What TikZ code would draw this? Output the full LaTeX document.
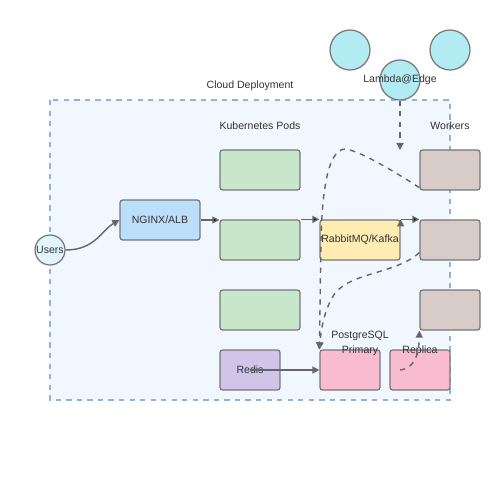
\documentclass[tikz,border=0pt]{standalone}
\usepackage{fontspec}
\setmainfont{Liberation Sans}
\usetikzlibrary{shapes,arrows,calc,arrows.meta}
\usetikzlibrary{positioning}

\definecolor{cloudfill}{HTML}{F0F7FE}
\definecolor{cloudline}{HTML}{8FB4D6}
\definecolor{edgegray}{HTML}{666666}
\definecolor{boxline}{HTML}{777777}
\definecolor{txtgray}{HTML}{333333}
\definecolor{podfill}{HTML}{C8E6C9}
\definecolor{lbfill}{HTML}{BBDEFB}
\definecolor{mqfill}{HTML}{FFECB3}
\definecolor{workfill}{HTML}{D7CCC8}
\definecolor{redisfill}{HTML}{D1C4E9}
\definecolor{dbfill}{HTML}{F8BBD0}
\definecolor{edgefill}{HTML}{B2EBF2}
\definecolor{userfill}{HTML}{E1F5FE}

\tikzset{
  box/.style={draw=boxline, line width=0.7pt, rounded corners=1.5pt, inner sep=0pt,
    minimum width=1.6cm, minimum height=0.8cm},
  smallbox/.style={box, minimum width=1.2cm},
  ball/.style={circle, draw=boxline, line width=0.7pt, inner sep=0pt},
  link/.style={draw=edgegray, line width=0.8pt, -{Triangle[length=4pt,width=4pt]}},
  dashlink/.style={link, dashed}
}

\begin{document}
\begin{tikzpicture}[x=0.02cm, y=-0.02cm, font=\fontsize{6}{7}\selectfont, text=txtgray]
            \useasboundingbox (0,0) rectangle (500,500);
            % cloud area
            \draw[cloudline, fill=cloudfill, dashed, line width=0.8pt] (50,100) rectangle (450,400);
            \draw (250,86) node (cloudlbl) {Cloud Deployment};
            \draw (260,126) node (podslbl) {Kubernetes Pods};
            \draw (450,126) node (workerslbl) {Workers};

            % edge functions
            \draw (350,50) node[ball, fill=edgefill, minimum size=0.8cm] (lambda1) {};
            \draw (450,50) node[ball, fill=edgefill, minimum size=0.8cm] (lambda2) {};
            \draw (400,80) node[ball, fill=edgefill, minimum size=0.8cm,
                  label={center:Lambda@Edge}] (lambda) {};

            \draw (50,250) node[ball, fill=userfill, minimum size=0.6cm,
                  label={center:Users}] (users) {};
            \draw (160,220) node[box, fill=lbfill] (nginx) {NGINX/ALB};

            \draw (260,170) node[box, fill=podfill] (pod1) {};
            \draw (260,240) node[box, fill=podfill] (pod2) {};
            \draw (260,310) node[box, fill=podfill] (pod3) {};

            \draw (360,240) node[box, fill=mqfill] (mq) {RabbitMQ/Kafka};

            \draw (450,170) node[smallbox, fill=workfill] (worker1) {};
            \draw (450,240) node[smallbox, fill=workfill] (worker2) {};
            \draw (450,310) node[smallbox, fill=workfill] (worker3) {};

            \draw (250,370) node[smallbox, fill=redisfill] (redis) {Redis};
            \draw (350,370) node[smallbox, fill=dbfill] (primary) {};
            \draw (420,370) node[smallbox, fill=dbfill] (replica) {};
            \draw (360,336) node (pglbl) {PostgreSQL};
            \draw (360,351) node (primarylbl) {Primary};
            \draw (420,351) node (replicalbl) {Replica};

            \coordinate (lambdaend) at (400,150);

            % connectors
            \draw[link] (users.east) .. controls (95,250) and (102,230) .. (nginx.west);
            \path[link]
            (nginx.east) edge (nginx.east -| pod2.west)
            (pod2.north east) edge (mq.north west)
            (mq.north east) edge (worker2.north west);
            \draw[link] (redis.center) -- (primary.west);
            \draw[dashlink] (lambda.south) -- (lambdaend);
            \draw[dashlink] ([yshift=0.6mm]worker1.south west) .. controls (395,172) and (362,152) .. (346,149)
                 .. controls (326,148) and (322,200) .. (321,240) -- (primary.north west);
            \draw[dashlink] ([yshift=1.6mm]worker2.south west) .. controls (395,275) and (345,272) .. (332,298)
                 .. controls (324,312) and (321,330) .. (primary.north west);
            \draw[dashlink] (400,370) .. controls (416,368) and (419,352) .. (worker3.south west);
        \end{tikzpicture}
\end{document}
